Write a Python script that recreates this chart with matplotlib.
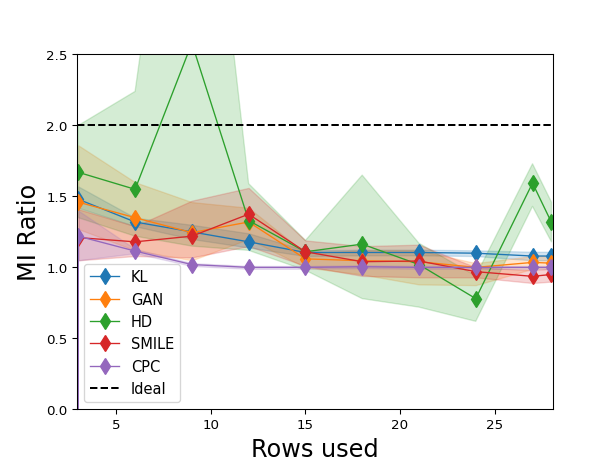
import matplotlib
matplotlib.use("Agg")
import matplotlib.pyplot as plt
import numpy as np

rows = [3, 6, 9, 12, 15, 18, 21, 24, 27, 28]

kl_mean = [1.48, 1.32, 1.25, 1.18, 1.105, 1.105, 1.105, 1.10, 1.08, 1.08]
kl_lo   = [1.42, 1.29, 1.20, 1.14, 1.08, 1.085, 1.085, 1.08, 1.05, 1.05]
kl_hi   = [1.57, 1.35, 1.30, 1.24, 1.12, 1.125, 1.125, 1.12, 1.11, 1.11]

gan_mean = [1.46, 1.35, 1.245, 1.32, 1.06, 1.047, 1.04, 1.00, 1.035, 1.03]
gan_lo   = [1.27, 1.12, 1.05, 1.20, 1.00, 0.95, 0.88, 0.875, 0.99, 0.99]
gan_hi   = [1.86, 1.60, 1.46, 1.42, 1.10, 1.12, 1.12, 1.03, 1.08, 1.08]

hd_mean = [1.67, 1.55, 2.58, 1.33, 1.11, 1.164, 1.02, 0.78, 1.594, 1.317]
hd_lo   = [1.35, 1.22, 1.15, 1.12, 0.98, 0.78, 0.72, 0.62, 1.43, 1.18]
hd_hi   = [2.00, 2.24, 5.10, 1.59, 1.19, 1.65, 1.17, 0.94, 1.73, 1.46]

smile_mean = [1.21, 1.18, 1.22, 1.375, 1.11, 1.04, 1.045, 0.97, 0.937, 0.95]
smile_lo   = [1.05, 1.08, 1.07, 1.15, 1.01, 0.94, 0.93, 0.93, 0.89, 0.90]
smile_hi   = [1.41, 1.29, 1.47, 1.56, 1.19, 1.15, 1.16, 1.00, 0.98, 0.99]

cpc_rows = [3, 3, 6, 9, 12, 15, 18, 21, 24, 27, 28]
cpc_mean = [0.0, 1.22, 1.115, 1.02, 1.00, 1.00, 1.005, 1.00, 1.00, 1.00, 1.00]
cpc_lo   = [1.05, 1.10, 1.01, 0.99, 0.99, 0.995, 0.99, 0.99, 0.99, 0.99]
cpc_hi   = [1.40, 1.13, 1.03, 1.01, 1.01, 1.015, 1.01, 1.01, 1.01, 1.01]

ideal = 2.0

colors = {"KL": "#1f77b4", "GAN": "#ff7f0e", "HD": "#2ca02c",
          "SMILE": "#d62728", "CPC": "#9467bd"}

fig, ax = plt.subplots(figsize=(6.4, 4.8), dpi=96)

series = [("KL", rows, kl_mean, kl_lo, kl_hi),
          ("GAN", rows, gan_mean, gan_lo, gan_hi),
          ("HD", rows, hd_mean, hd_lo, hd_hi),
          ("SMILE", rows, smile_mean, smile_lo, smile_hi)]

MS = 9
for name, x, m, lo, hi in series:
    ax.plot(x, m, marker="d", markersize=MS, lw=1, color=colors[name], label=name)
    ax.fill_between(x, lo, hi, color=colors[name], alpha=0.2)

ax.plot(cpc_rows, cpc_mean, marker="d", markersize=MS, lw=1,
        color=colors["CPC"], label="CPC", markevery=list(range(1, len(cpc_rows))))
ax.fill_between(cpc_rows[1:], cpc_lo, cpc_hi, color=colors["CPC"], alpha=0.2)

ax.axhline(ideal, color="black", ls="--", lw=1.5, label="Ideal")

ax.set_xlim(2.92, 28.08)
ax.set_ylim(0, 2.5)
ax.set_xlabel("Rows used", fontsize=18)
ax.set_ylabel("MI Ratio", fontsize=18)
ax.legend(loc="lower left", fontsize=11)

fig.savefig("out.png", dpi=96)
